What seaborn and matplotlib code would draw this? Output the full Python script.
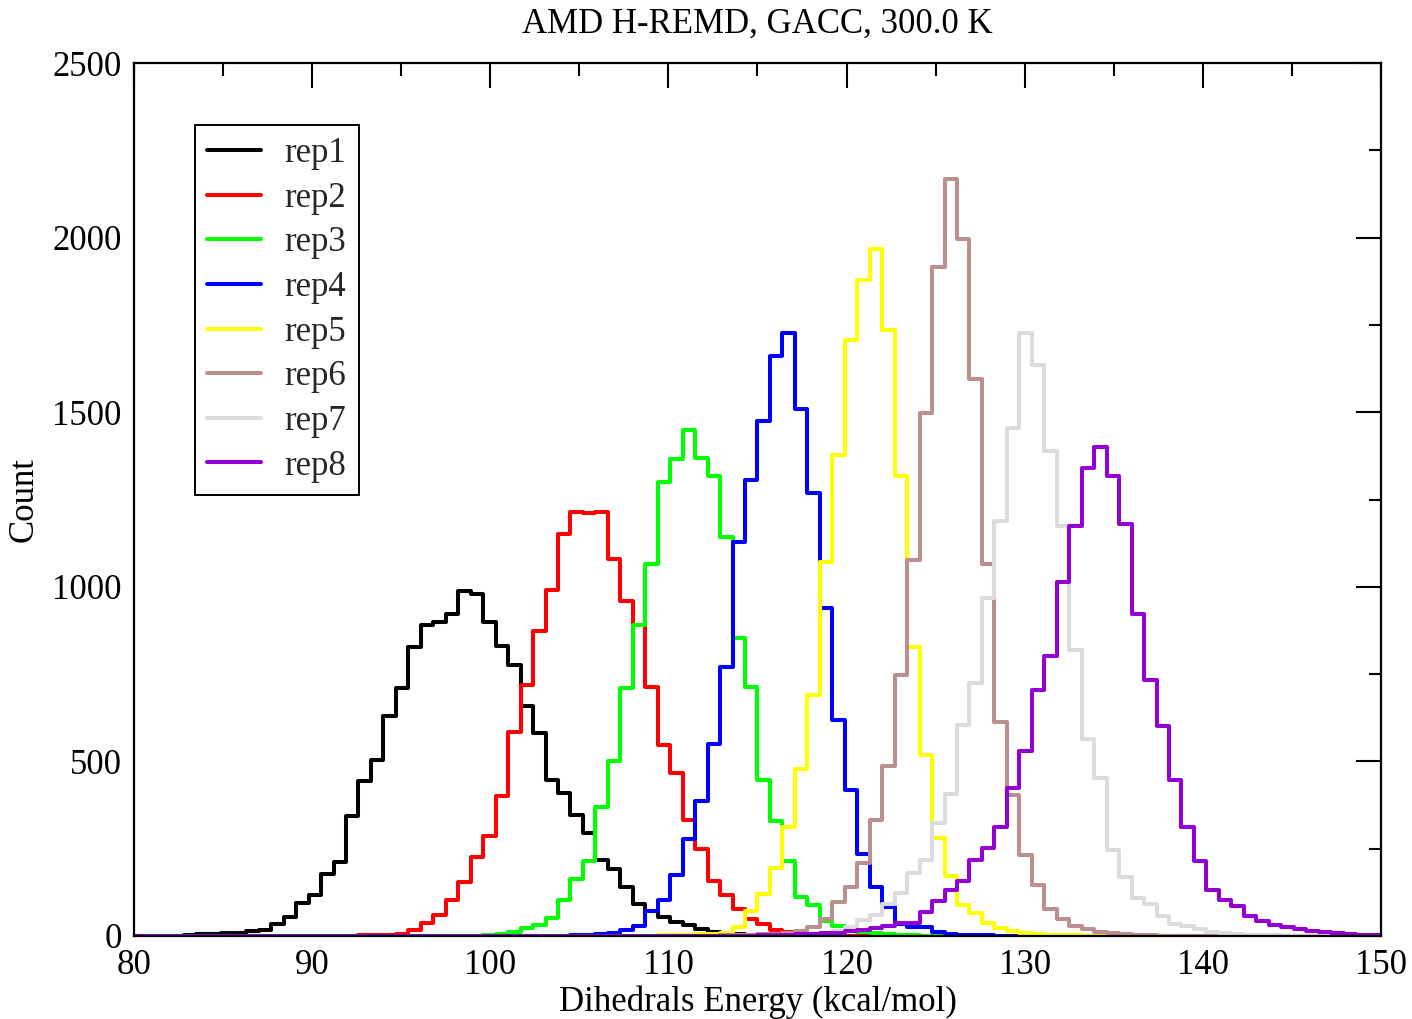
import numpy as np
import pandas as pd
import matplotlib
matplotlib.use("Agg")
import matplotlib.pyplot as plt
import seaborn as sns
from matplotlib.lines import Line2D
from matplotlib.ticker import MultipleLocator

# ---------------- data ----------------
bin_start = 80.0
bin_width = 0.7
n_bins = 100

rep1 = [0, 0, 0, 1, 2, 5, 7, 8, 10, 15,
        16, 33, 55, 94, 117, 178, 213, 345, 444, 504,
        630, 709, 827, 890, 900, 921, 988, 978, 900, 830,
        775, 658, 582, 447, 409, 346, 296, 217, 193, 141,
        92, 73, 55, 41, 32, 21, 12, 9, 6, 4,
        3, 2, 1] + [0] * 47
rep2 = [0] * 17 + [1, 2, 2, 3, 5, 17, 36, 60, 103, 156, 227, 287, 400, 585, 720, 872,
                   990, 1150, 1215, 1210, 1215, 1080, 960, 890, 713, 546, 467, 331, 250,
                   157, 116, 78, 49, 35, 18, 12, 9, 5, 3, 2, 1] + [0] * 42
rep3 = [0] * 27 + [1, 4, 7, 12, 22, 32, 52, 104, 162, 215, 369, 500, 711, 892, 1066,
                   1300, 1365, 1450, 1370, 1317, 1144, 853, 713, 446, 330, 216, 113, 89,
                   44, 29, 20, 12, 8, 5, 3, 2, 1] + [0] * 36
rep4 = [0] * 34 + [1, 2, 3, 5, 8, 17, 30, 73, 103, 174, 278, 386, 549, 770, 1127, 1306,
                   1476, 1662, 1727, 1509, 1270, 938, 618, 417, 236, 141, 84, 34, 27, 26,
                   12, 6, 4, 3, 2, 1] + [0] * 30
rep5 = [0] * 41 + [1, 2, 3, 4, 5, 6, 10, 25, 72, 120, 194, 312, 478, 690, 1071, 1378,
                   1708, 1880, 1966, 1734, 1318, 829, 517, 281, 172, 90, 66, 38, 23, 13,
                   9, 6, 4, 3, 2, 1, 0] + [0] * 22
rep6 = [0] * 46 + [1, 2, 3, 4, 5, 7, 10, 13, 26, 50, 98, 140, 208, 332, 486, 748, 1076,
                   1498, 1916, 2168, 1996, 1595, 1064, 614, 405, 232, 145, 76, 48, 30, 20,
                   12, 8, 5, 3, 2, 1] + [0] * 17
rep7 = [0] * 51 + [1, 2, 3, 5, 9, 15, 27, 47, 60, 93, 124, 180, 219, 323, 406, 604, 724,
                   968, 1188, 1454, 1726, 1634, 1390, 1175, 818, 564, 452, 245, 170, 110,
                   91, 57, 34, 28, 19, 11, 8, 6, 4, 3, 2, 1] + [0] * 7
rep8 = [0] * 50 + [2, 3, 4, 5, 6, 8, 10, 13, 17, 22, 28, 36, 38, 70, 100, 132, 157, 218,
                   252, 313, 425, 530, 705, 803, 1014, 1175, 1339, 1400, 1317, 1180, 923,
                   732, 602, 448, 312, 216, 131, 102, 87, 57, 42, 31, 26, 19, 14, 11, 8,
                   6, 4, 2]

series_names = ["rep1", "rep2", "rep3", "rep4", "rep5", "rep6", "rep7", "rep8"]
series_values = [rep1, rep2, rep3, rep4, rep5, rep6, rep7, rep8]
series_colors = ["#000000", "#ff0000", "#00ff00", "#0000ff",
                 "#ffff00", "#bc8f8f", "#dcdcdc", "#9400d3"]

title = "AMD H-REMD, GACC, 300.0 K"
xlabel = "Dihedrals Energy (kcal/mol)"
ylabel = "Count"

# ---------------- build table ----------------
edges = [float(bin_start + bin_width * i) for i in range(n_bins + 1)]
centers = [e + bin_width / 2 for e in edges[:-1]]
frames = []
for name, vals in zip(series_names, series_values):
    vals = list(vals)[:n_bins] + [0] * max(0, n_bins - len(vals))
    frames.append(pd.DataFrame({"energy": centers, "count": vals, "rep": name}))
df = pd.concat(frames, ignore_index=True)

# ---------------- style ----------------
sns.set_theme(style="white")
plt.rcParams['font.family'] = ['Liberation Serif', 'DejaVu Serif']
plt.rcParams['axes.edgecolor'] = 'black'
plt.rcParams['axes.linewidth'] = 1.6

W, H = 1412, 1019
fig = plt.figure(figsize=(W / 100, H / 100), dpi=100)
ax = fig.add_axes([134 / W, 1 - 936 / H, (1381 - 134) / W, (936 - 63) / H])

line_w = 2.9
for name, color in zip(series_names, series_colors):
    sub = df[df["rep"] == name]
    sns.histplot(data=sub, x="energy", weights="count", bins=edges,
                 element="step", fill=False, color=color, linewidth=line_w, ax=ax)

ax.set_xlim(80, 150)
ax.set_ylim(0, 2500)
ax.xaxis.set_major_locator(MultipleLocator(10))
ax.xaxis.set_minor_locator(MultipleLocator(5))
ax.yaxis.set_major_locator(MultipleLocator(500))
ax.yaxis.set_minor_locator(MultipleLocator(250))
ax.tick_params(which='both', direction='in', top=True, right=True,
               colors='black', width=1.5, labelsize=25, pad=9)
ax.tick_params(which='major', length=18)
ax.tick_params(which='minor', length=9)
ax.grid(False)
for sp in ax.spines.values():
    sp.set_visible(True)
    sp.set_color('black')
    sp.set_linewidth(1.6)

ax.set_title(title, fontsize=25, pad=22, color='black')
ax.set_xlabel(xlabel, fontsize=25, labelpad=3, color='black')
ax.set_ylabel(ylabel, fontsize=25, labelpad=8, color='black')

handles = [Line2D([0], [0], color=c, lw=line_w) for c in series_colors]
leg = ax.legend(handles, series_names, loc='upper left',
                bbox_to_anchor=(0.049, 0.929), borderaxespad=0,
                frameon=True, fancybox=False, edgecolor='black', framealpha=1,
                fontsize=25, handlelength=1.55, handletextpad=0.68,
                borderpad=0.35, labelspacing=0.335)
leg.get_frame().set_linewidth(1.4)

fig.savefig("out.png", dpi=100)
